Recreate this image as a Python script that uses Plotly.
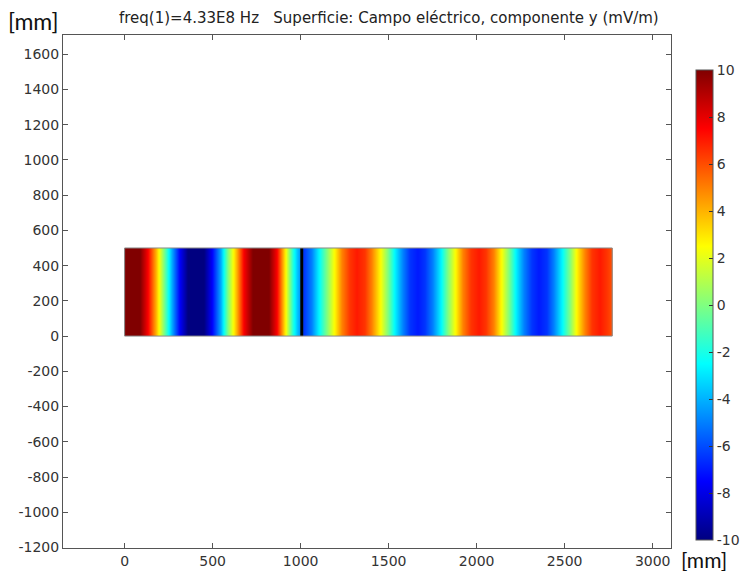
import plotly.graph_objects as go

# ---- data ----
# Electric field, y component (mV/m), sampled along x (mm); uniform across y
x_left = [0, 1, 40, 86, 131, 177, 222, 268, 314, 359, 405, 450, 496, 542, 587,
          633, 678, 724, 770, 815, 861, 907, 935, 952, 975, 998]
ey_left = [10.2, 10.2, 10.8, 10.0, 7.6, 4.1, 0, -4.1, -7.6, -10.0, -10.8, -10.0,
           -7.6, -4.1, 0, 4.1, 7.6, 10.0, 10.8, 10.0, 7.6, 3.0, 0, -1.8, -3.5, -4.8]
x_right = [1015, 1061, 1104, 1147, 1190, 1233, 1276, 1319, 1362, 1405, 1448, 1491,
           1534, 1577, 1620, 1663, 1706, 1749, 1793, 1836, 1879, 1922, 1965, 2008,
           2051, 2094, 2137, 2180, 2223, 2266, 2309, 2352, 2395, 2438, 2481, 2525,
           2568, 2611, 2654, 2697, 2740, 2769, 2770]
ey_right = [-6.5, -4.95, -2.68, 0, 2.68, 4.95, 6.47, 7, 6.47, 4.95, 2.68, 0, -2.68,
            -4.95, -6.47, -7, -6.47, -4.95, -2.68, 0, 2.68, 4.95, 6.47, 7, 6.47,
            4.95, 2.68, 0, -2.68, -4.95, -6.47, -7, -6.47, -4.95, -2.68, 0, 2.68,
            4.95, 6.47, 7, 6.47, 5.8, 5.8]
domain_x = [0, 2770]
domain_y_edges = [0, 250, 500]
slab_x = [998, 1015]

x_ticks = [0, 500, 1000, 1500, 2000, 2500, 3000]
y_ticks = list(range(-1200, 1601, 200))
cbar_ticks = [-10, -8, -6, -4, -2, 0, 2, 4, 6, 8, 10]
title_text = "freq(1)=4.33E8 Hz   Superficie: Campo eléctrico, componente y (mV/m)"
unit_text = "[mm]"

# ---- figure ----
xs = x_left + x_right
ey = ey_left + ey_right
z = [ey, ey]

jet = [[0.0, "rgb(0,0,128)"], [0.125, "rgb(0,0,255)"], [0.375, "rgb(0,255,255)"],
       [0.5, "rgb(128,255,128)"], [0.625, "rgb(255,255,0)"], [0.875, "rgb(255,0,0)"],
       [1.0, "rgb(128,0,0)"]]

W, H = 746, 571
ml, mr, mt, mb = 63, 75, 35, 23
pw, ph = W - ml - mr, H - mt - mb

font = dict(family="DejaVu Sans", size=14, color="#333333")

fig = go.Figure()
fig.add_trace(go.Heatmap(
    x=xs, y=domain_y_edges, z=z, zmin=-10, zmax=10, zsmooth="best",
    colorscale=jet, hoverinfo="skip",
    colorbar=dict(
        tickvals=cbar_ticks, ticktext=[str(v) for v in cbar_ticks],
        ticks="inside", ticklen=4, tickcolor="#333",
        outlinecolor="#555", outlinewidth=1, thickness=17,
        lenmode="pixels", len=470, xpad=0, ypad=0,
        x=(696 - ml) / pw, xanchor="left",
        y=(H - mb - 305) / ph, yanchor="middle",
        tickfont=font,
    ),
))

fig.add_shape(type="rect", x0=slab_x[0], x1=slab_x[1],
              y0=domain_y_edges[0], y1=domain_y_edges[-1],
              fillcolor="black", line=dict(width=0), layer="above")
fig.add_shape(type="rect", x0=domain_x[0], x1=domain_x[1],
              y0=domain_y_edges[0], y1=domain_y_edges[-1],
              line=dict(color="#888888", width=1), layer="above")

axis_common = dict(showgrid=False, zeroline=False, showline=True, mirror="ticks",
                   linecolor="#555555", linewidth=1, ticks="inside", ticklen=5,
                   tickcolor="#555555", tickfont=font)
fig.update_xaxes(range=[-350, 3104], tickvals=x_ticks,
                 ticktext=[str(v) for v in x_ticks], **axis_common)
fig.update_yaxes(range=[-1203, 1709], tickvals=y_ticks,
                 ticktext=[str(v) for v in y_ticks], **axis_common)

fig.add_annotation(text=title_text, xref="paper", yref="paper",
                   x=(389 - ml) / pw, y=(H - mb - 18) / ph, xanchor="center",
                   yanchor="middle", showarrow=False,
                   font=dict(family="DejaVu Sans", size=15, color="#222222"))
fig.add_annotation(text=unit_text, xref="paper", yref="paper",
                   x=(6 - ml) / pw, y=(H - mb - 21) / ph, xanchor="left",
                   yanchor="middle", showarrow=False,
                   font=dict(family="Lato", size=23, color="#111111"))
fig.add_annotation(text=unit_text, xref="paper", yref="paper",
                   x=(680 - ml) / pw, y=(H - mb - 559) / ph, xanchor="left",
                   yanchor="middle", showarrow=False, borderpad=0,
                   font=dict(family="Lato", size=21, color="#111111"))

fig.update_layout(width=W, height=H,
                  margin=dict(l=ml, r=mr, t=mt, b=mb, autoexpand=False),
                  paper_bgcolor="white", plot_bgcolor="white", showlegend=False)

fig.write_html("out.html")
